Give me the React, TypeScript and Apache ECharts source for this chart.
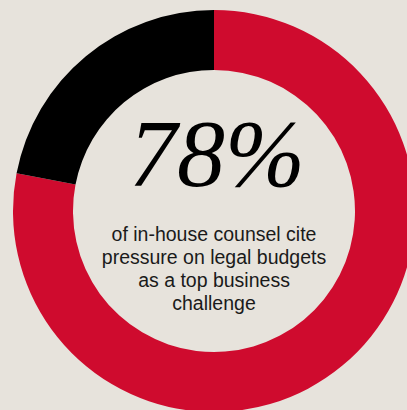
import React, { useEffect, useRef } from "react";
import * as echarts from "echarts";

const categories = ["Cite pressure on legal budgets", "Other"];
const values = [78, 22];
const colors = ["#cf0b2e", "#000000"];
const captionLines = [
  "of in-house counsel cite",
  "pressure on legal budgets",
  "as a top business",
  "challenge",
];

export default function App() {
  const ref = useRef<HTMLDivElement>(null);
  useEffect(() => {
    if (!ref.current) return;
    const chart = echarts.init(ref.current, null, { renderer: "svg" });
    const total = values.reduce((a, b) => a + b, 0);
    const pct = Math.round((values[0] / total) * 100);
    chart.setOption({
      animation: false,
      backgroundColor: "#e7e3dc",
      series: [
        {
          type: "pie",
          center: [214, 211],
          radius: [141, 201],
          startAngle: 90,
          clockwise: true,
          silent: true,
          label: { show: false },
          labelLine: { show: false },
          itemStyle: { borderWidth: 0 },
          data: categories.map((name, i) => ({
            name,
            value: values[i],
            itemStyle: { color: colors[i] },
          })),
        },
      ],
      graphic: [
        {
          type: "text",
          x: 217,
          y: 201,
          style: {
            text: `${pct}%`,
            font: "italic 96px 'Liberation Serif', 'Times New Roman', serif",
            fill: "#000000",
            textAlign: "center",
            textVerticalAlign: "bottom",
          },
        },
        {
          type: "text",
          x: 214,
          y: 222,
          style: {
            text: captionLines.join("\n"),
            font: "19.5px 'Liberation Sans', Arial, sans-serif",
            lineHeight: 23,
            fill: "#1a1a1a",
            textAlign: "center",
            textVerticalAlign: "top",
          },
        },
      ],
    });
    return () => chart.dispose();
  }, []);
  return (
    <div
      ref={ref}
      style={{ position: "fixed", left: 0, top: 0, width: 407, height: 410 }}
    />
  );
}
